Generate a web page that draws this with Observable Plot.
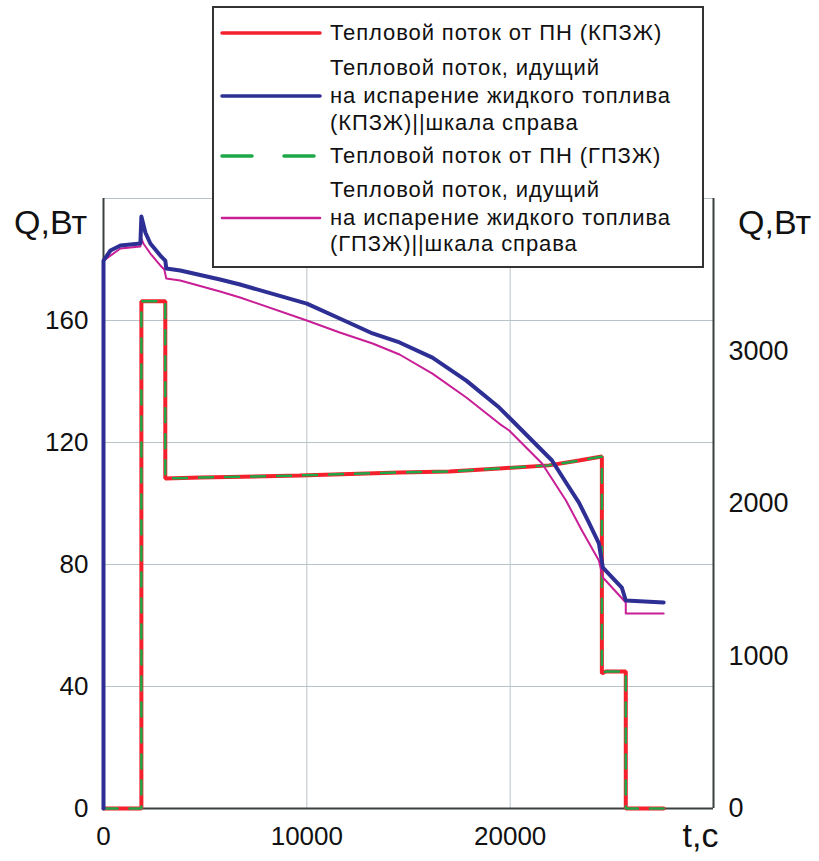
<!DOCTYPE html>
<html><head><meta charset="utf-8">
<script src="https://cdn.jsdelivr.net/npm/d3@7"></script>
<script src="https://cdn.jsdelivr.net/npm/@observablehq/plot@0.6"></script>
<style>
body{margin:0;background:#fff;font-family:"Liberation Sans",Arial,sans-serif;}
#wrap{position:relative;width:819px;height:861px;}
#legend{position:absolute;left:212px;top:6px;width:492px;height:262px;background:#fff;border:2px solid #333;box-sizing:border-box;}
#legend .t{position:absolute;left:116px;font-size:22px;letter-spacing:0.9px;line-height:26px;color:#111;white-space:nowrap;}
#legend svg{position:absolute;left:6px;}
</style>
</head><body>
<div id="wrap"><div id="chart"></div><div id="legend"></div></div>
<script>
// Тепловой поток от ПН (КПЗЖ), левая шкала, Вт
const tKPZH = [0, 1863, 1863, 3039, 3039, 4755, 9657, 14559, 17010, 19461, 21912, 23382, 24510, 24510, 24700, 25686, 25686, 27549];
const qKPZH = [0, 0, 166.3, 166.3, 108.2, 108.5, 109.2, 110.2, 110.5, 111.5, 112.5, 114.1, 115.4, 44.3, 44.9, 44.9, 0, 0];
// Тепловой поток от ПН (ГПЗЖ), левая шкала, Вт
const tGPZH = [0, 1863, 1863, 3039, 3039, 4755, 9657, 14559, 17010, 19461, 21912, 23382, 24510, 24510, 24700, 25686, 25686, 27549];
const qGPZH = [0, 0, 166.3, 166.3, 108.2, 108.5, 109.2, 110.2, 110.5, 111.5, 112.5, 114.1, 115.4, 44.3, 44.9, 44.9, 0, 0];
// Тепловой поток на испарение (КПЗЖ), правая шкала, Вт
const tEvapK = [0, 0, 343, 833, 1814, 1863, 2059, 2304, 2794, 3039, 3088, 3775, 5735, 6716, 10000, 11618, 13235, 14559, 16177, 17843, 19461, 19951, 21078, 22059, 22745, 23382, 23873, 24363, 24559, 25490, 25686, 27549];
const qEvapK = [0, 3593, 3659, 3692, 3705, 3882, 3777, 3705, 3626, 3593, 3541, 3528, 3469, 3436, 3311, 3213, 3115, 3056, 2957, 2806, 2629, 2564, 2413, 2282, 2138, 2006, 1875, 1738, 1580, 1449, 1364, 1351];
// Тепловой поток на испарение (ГПЗЖ), правая шкала, Вт
const tEvapG = [0, 0, 833, 1814, 1863, 1961, 2304, 2794, 2990, 3088, 3775, 5735, 6716, 10000, 11618, 13235, 14559, 16177, 17843, 19461, 19951, 21569, 22745, 23529, 24363, 24559, 25686, 25686, 27549];
const qEvapG = [0, 3593, 3672, 3685, 3737, 3705, 3639, 3561, 3534, 3475, 3462, 3390, 3351, 3200, 3121, 3049, 2977, 2852, 2695, 2524, 2479, 2262, 2020, 1823, 1626, 1515, 1351, 1279, 1279];

const xTicks = [0, 10000, 20000];
const yLeftTicks = [0, 40, 80, 120, 160];
const yRightTicks = [0, 1000, 2000, 3000];
const scaleRatio = 20; // правая шкала = левая × 20

const legendLabels = [
  "Тепловой поток от ПН (КПЗЖ)",
  "Тепловой поток, идущий\nна испарение жидкого топлива\n(КПЗЖ)||шкала справа",
  "Тепловой поток от ПН (ГПЗЖ)",
  "Тепловой поток, идущий\nна испарение жидкого топлива\n(ГПЗЖ)||шкала справа"
];
const colors = ["#f4202c", "#2e2f94", "#1fa84a", "#c81e96"];

const zip = (t, q, k = 1) => t.map((v, i) => ({t: v, q: q[i] / k}));
const red = zip(tKPZH, qKPZH), green = zip(tGPZH, qGPZH);
const blue = zip(tEvapK, qEvapK, scaleRatio), mag = zip(tEvapG, qEvapG, scaleRatio);

const font = "'Liberation Sans', Arial, sans-serif";
const chart = Plot.plot({
  width: 819, height: 861,
  marginLeft: 103, marginRight: 106, marginTop: 198, marginBottom: 53,
  style: {fontFamily: font, color: "#111", background: "#fff"},
  x: {domain: [0, 30000]},
  y: {domain: [0, 200]},
  marks: [
    Plot.gridY([40, 80, 120, 160, 200], {stroke: "#b9c4c9", strokeOpacity: 1, strokeWidth: 1}),
    Plot.gridX([10000, 20000], {stroke: "#b9c4c9", strokeOpacity: 1, strokeWidth: 1}),
    Plot.ruleX([0, 30000], {stroke: "#3a3f40", strokeWidth: 2}),
    Plot.ruleY([0], {stroke: "#3a3f40", strokeWidth: 2}),
    Plot.axisX({ticks: xTicks, tickSize: 0, tickPadding: 18, fontSize: 26, tickFormat: d => String(d), label: null}),
    Plot.axisY({ticks: yLeftTicks, tickSize: 0, tickPadding: 15, fontSize: 26, label: null}),
    Plot.axisY({anchor: "right", ticks: yRightTicks.map(v => v / scaleRatio), tickSize: 0, tickPadding: 15, fontSize: 27, tickFormat: d => String(d * scaleRatio), label: null}),
    Plot.text(["Q,Вт"], {frameAnchor: "top-left", textAnchor: "middle", dx: -53, dy: 11, fontSize: 34, fill: "#111"}),
    Plot.text(["Q,Вт"], {frameAnchor: "top-right", textAnchor: "middle", dx: 61, dy: 11, fontSize: 34, fill: "#111"}),
    Plot.text(["t,c"], {frameAnchor: "bottom-right", textAnchor: "middle", dx: -13, dy: 38, fontSize: 34, fill: "#111"}),
    Plot.line(red, {x: "t", y: "q", stroke: colors[0], strokeWidth: 4, strokeLinejoin: "miter"}),
    Plot.line(green, {x: "t", y: "q", stroke: colors[2], strokeWidth: 2.5, strokeDasharray: "14,12", strokeLinejoin: "miter"}),
    Plot.line(mag, {x: "t", y: "q", stroke: colors[3], strokeWidth: 2}),
    Plot.line(blue, {x: "t", y: "q", stroke: colors[1], strokeWidth: 4})
  ]
});
document.getElementById("chart").appendChild(chart);

// legend
const leg = document.getElementById("legend");
const rowCenters = [[25], [60, 88, 115], [148], [182, 210, 236]];
const sampleRow = [0, 1, 0, 1];
legendLabels.forEach((lab, i) => {
  const lines = lab.split("\n");
  lines.forEach((ln, j) => {
    const d = document.createElement("div");
    d.className = "t";
    d.style.top = (rowCenters[i][j] - 13) + "px";
    d.textContent = ln;
    leg.appendChild(d);
  });
  const cy = rowCenters[i][sampleRow[i]];
  const s = d3.create("svg").attr("width", 104).attr("height", 10).style("top", (cy - 5) + "px");
  s.append("line").attr("x1", 2).attr("x2", 100).attr("y1", 5).attr("y2", 5)
    .attr("stroke", colors[i]).attr("stroke-width", i === 3 ? 2.5 : 3.5).attr("stroke-linecap", "round")
    .attr("stroke-dasharray", i === 2 ? "30,32" : null);
  leg.appendChild(s.node());
});
</script>
</body></html>
